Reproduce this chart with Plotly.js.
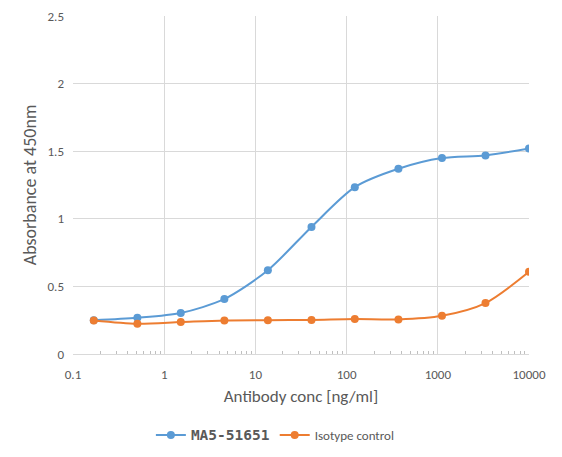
<!DOCTYPE html>
<html>
<head>
<meta charset="utf-8">
<script src="https://cdn.plot.ly/plotly-3.0.1.min.js"></script>
<style>html,body{margin:0;padding:0;background:#fff;}#chart{width:562px;height:457px;}</style>
</head>
<body>
<div id="chart"></div>
<script>
var concentrations = [0.169, 0.508, 1.52, 4.57, 13.7, 41.2, 123, 370, 1111, 3333, 10000];
var ma5Values = [0.25, 0.268, 0.303, 0.407, 0.62, 0.94, 1.234, 1.37, 1.449, 1.469, 1.52];
var isotypeValues = [0.248, 0.224, 0.236, 0.248, 0.25, 0.252, 0.258, 0.256, 0.283, 0.377, 0.608];
var xTickVals = [0.1, 1, 10, 100, 1000, 10000];
var xTickText = ["0.1", "1", "10", "100", "1000", "10000"];
var yTickVals = [0, 0.5, 1, 1.5, 2, 2.5];
var yTickText = ["0", "0.5", "1", "1.5", "2", "2.5"];

var blue = "#5B9BD5", orange = "#ED7D31";
var traces = [
  {x: concentrations, y: ma5Values, name: '<span style="font-family:\'DejaVu Sans Mono\';font-weight:bold;font-size:14.5px;">MA5-51651</span>',
   type: 'scatter', mode: 'lines+markers', line: {color: blue, width: 2, shape: 'spline', smoothing: 0.8},
   marker: {color: blue, size: 8}},
  {x: concentrations, y: isotypeValues, name: 'Isotype control',
   type: 'scatter', mode: 'lines+markers', line: {color: orange, width: 2, shape: 'spline', smoothing: 0.8},
   marker: {color: orange, size: 8}}
];
var layout = {
  width: 562, height: 457,
  margin: {l: 73, r: 33, t: 16, b: 103},
  paper_bgcolor: '#fff', plot_bgcolor: '#fff',
  font: {family: 'Carlito, "Liberation Sans", sans-serif', color: '#595959', size: 13},
  showlegend: true,
  legend: {orientation: 'h', x: 0.49, xanchor: 'center', xref: 'container', y: 0.048, yanchor: 'middle', yref: 'container',
           font: {size: 13, color: '#595959'}, itemwidth: 30},
  xaxis: {type: 'log', range: [-1, 4], tickvals: xTickVals, ticktext: xTickText,
          showgrid: true, gridcolor: '#D9D9D9', gridwidth: 1, automargin: false,
          showline: true, linecolor: '#D9D9D9', linewidth: 1, zeroline: false,
          ticks: '', ticklabelstandoff: 8, tickfont: {size: 13, color: '#595959'},
          minor: {ticks: 'inside', ticklen: 3, tickcolor: '#BFBFBF', tickwidth: 1, showgrid: false,
                  tickvals: [0.2,0.3,0.4,0.5,0.6,0.7,0.8,0.9,2,3,4,5,6,7,8,9,20,30,40,50,60,70,80,90,200,300,400,500,600,700,800,900,2000,3000,4000,5000,6000,7000,8000,9000]},
          title: {text: 'Antibody conc [ng/ml]', font: {size: 17, color: '#595959'}, standoff: 9}},
  yaxis: {range: [0, 2.5], tickvals: yTickVals, ticktext: yTickText, automargin: false,
          showgrid: true, gridcolor: '#D9D9D9', gridwidth: 1,
          showline: false, zeroline: false, ticks: '', ticklabelstandoff: 8,
          tickfont: {size: 13, color: '#595959'},
          title: {text: 'Absorbance at 450nm', font: {size: 18, color: '#595959'}, standoff: 6}}
};
Plotly.newPlot('chart', traces, layout, {displayModeBar: false, staticPlot: true});
</script>
</body>
</html>
